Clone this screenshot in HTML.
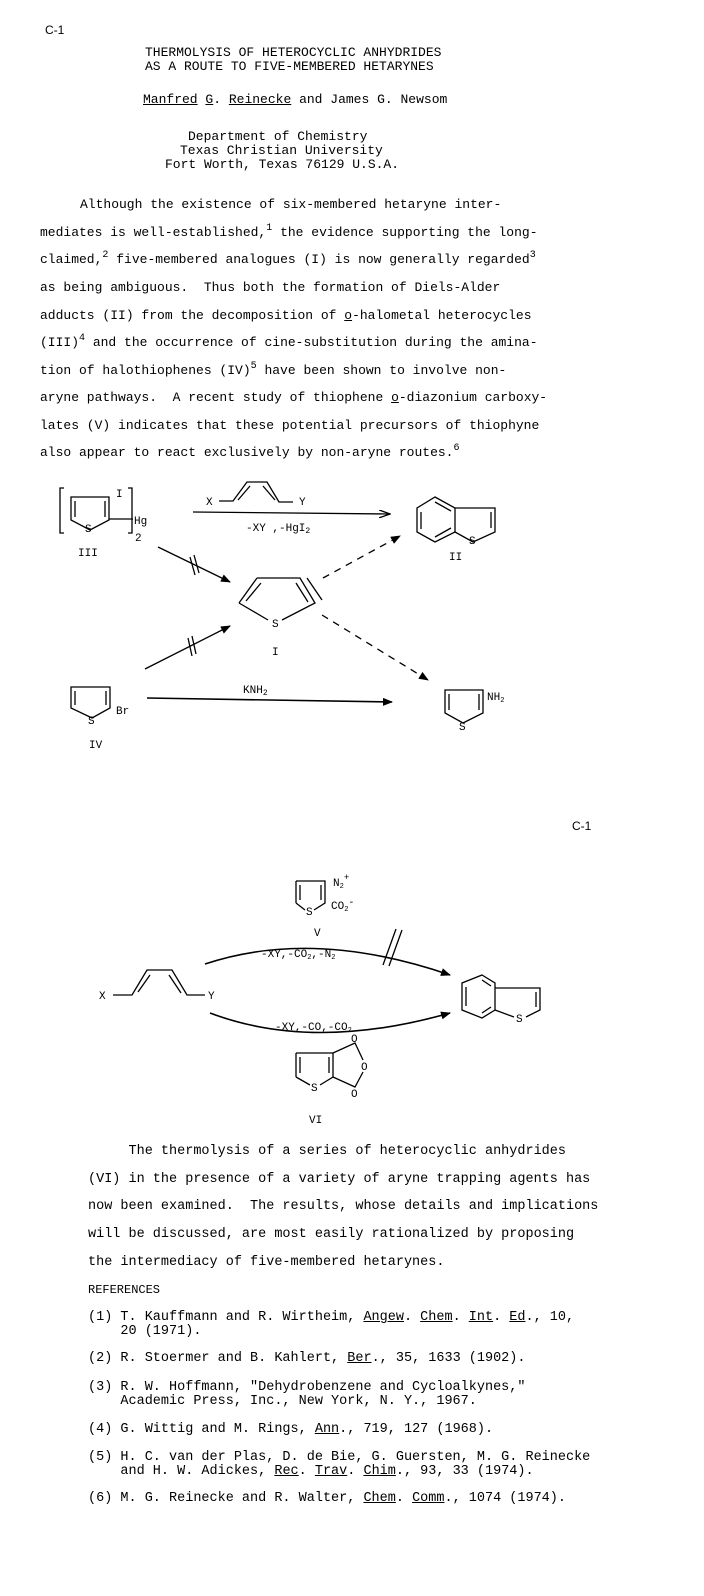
<!DOCTYPE html>
<html><head><meta charset="utf-8"><style>
body{margin:0;background:#fff;}
#p{position:relative;width:704px;height:1596px;overflow:hidden;background:#fff;color:#000;font-family:"Liberation Mono",monospace;}
.t{position:absolute;white-space:pre;font-size:13px;line-height:16px;}
.b{font-size:13.5px;}
sup{font-size:10px;line-height:0;vertical-align:6px;}
u{text-decoration:underline;}
svg{position:absolute;left:0;top:0;}
svg text{font-family:"Liberation Mono",monospace;font-size:11px;fill:#000;}
</style></head><body><div id="p">
<div class="t" style="left:45px;top:22px;font-family:'Liberation Sans',sans-serif;font-size:12px">C-1</div>
<div class="t" style="left:145px;top:45px">THERMOLYSIS OF HETEROCYCLIC ANHYDRIDES</div>
<div class="t" style="left:145px;top:59px">AS A ROUTE TO FIVE-MEMBERED HETARYNES</div>
<div class="t" style="left:143px;top:92px"><u>Manfred</u> <u>G</u>. <u>Reinecke</u> and James G. Newsom</div>
<div class="t" style="left:188px;top:129px">Department of Chemistry</div>
<div class="t" style="left:180px;top:143px">Texas Christian University</div>
<div class="t" style="left:165px;top:157px">Fort Worth, Texas 76129 U.S.A.</div>

<div class="t" style="left:80px;top:197px">Although the existence of six-membered hetaryne inter-</div>
<div class="t" style="left:40px;top:225px">mediates is well-established,<sup>1</sup> the evidence supporting the long-</div>
<div class="t" style="left:40px;top:252px">claimed,<sup>2</sup> five-membered analogues (I) is now generally regarded<sup>3</sup></div>
<div class="t" style="left:40px;top:280px">as being ambiguous.  Thus both the formation of Diels-Alder</div>
<div class="t" style="left:40px;top:308px">adducts (II) from the decomposition of <u>o</u>-halometal heterocycles</div>
<div class="t" style="left:40px;top:335px">(III)<sup>4</sup> and the occurrence of cine-substitution during the amina-</div>
<div class="t" style="left:40px;top:363px">tion of halothiophenes (IV)<sup>5</sup> have been shown to involve non-</div>
<div class="t" style="left:40px;top:390px">aryne pathways.  A recent study of thiophene <u>o</u>-diazonium carboxy-</div>
<div class="t" style="left:40px;top:418px">lates (V) indicates that these potential precursors of thiophyne</div>
<div class="t" style="left:40px;top:445px">also appear to react exclusively by non-aryne routes.<sup>6</sup></div>

<svg width="704" height="1596" viewBox="0 0 704 1596" fill="none" stroke="#000" stroke-width="1.3">
<defs>
<marker id="a" markerWidth="10" markerHeight="8" refX="9" refY="4" orient="auto" markerUnits="userSpaceOnUse"><path d="M0,0 L10,4 L0,8 Z" fill="#000" stroke="none"/></marker>
<marker id="o" markerWidth="12" markerHeight="8" refX="11" refY="4" orient="auto" markerUnits="userSpaceOnUse"><path d="M0,0 L11,4 L0,8" fill="none" stroke="#000"/></marker>
</defs>
<!-- III -->
<path d="M71,497 L109,497 L109,520 L90,530 L71,520 Z"/>
<path d="M75,501 L75,517 M105,501 L105,517"/>
<path d="M109,519 L133,519"/>
<path d="M64,488 L60,488 L60,533 L64,533 M128,488 L132,488 L132,533 L128,533"/>
<text x="116" y="497" stroke="none">I</text>
<text x="134" y="524" stroke="none">Hg</text>
<text x="135" y="541" stroke="none" font-size="8">2</text>
<text x="78" y="556" stroke="none">III</text>
<text x="85" y="532" stroke="none" font-size="9">S</text>
<!-- diene reagent -->
<text x="206" y="505" stroke="none">X</text>
<path d="M219,501 L233,501 L247,482 L267,482 L279,502 L293,502"/>
<path d="M238,500 L250,486 M263,486 L275,500"/>
<text x="299" y="505" stroke="none">Y</text>
<path d="M193,512 L390,514" marker-end="url(#o)"/>
<text x="246" y="531" stroke="none">-XY  ,-HgI<tspan font-size="8" dy="2">2</tspan></text>
<!-- II -->
<path d="M435,497 L455,508 L455,532 L435,542 L417,532 L417,508 Z"/>
<path d="M435,502 L451,511 M421,512 L421,529 M435,537 L451,528"/>
<path d="M455,508 L495,508 L495,532 L473,542 L455,532"/>
<path d="M491,512 L491,528"/>
<text x="469" y="544" stroke="none" font-size="9">S</text>
<text x="449" y="560" stroke="none">II</text>
<!-- I -->
<path d="M257,578 L300,578 L315,603 L282,620 M268,620 L239,603 Z M239,603 L257,578"/>
<path d="M261,583 L246,601 M296,583 L308,602 M307,578 L322,600"/>
<text x="272" y="627" stroke="none">S</text>
<text x="272" y="655" stroke="none">I</text>
<!-- arrows -->
<path d="M158,547 L230,582" marker-end="url(#a)"/>
<path d="M190,557 L195,575 M194,555 L199,573"/>
<path d="M145,669 L230,626" marker-end="url(#a)"/>
<path d="M188,638 L192,656 M192,636 L196,654"/>
<path d="M323,578 L400,536" stroke-dasharray="7,6" marker-end="url(#a)"/>
<path d="M322,615 L428,680" stroke-dasharray="7,6" marker-end="url(#a)"/>
<!-- IV -->
<path d="M71,687 L110,687 L110,708 L92,718 L71,708 Z"/>
<path d="M75,691 L75,705 M106,691 L106,705"/>
<text x="88" y="724" stroke="none" font-size="9">S</text>
<text x="116" y="714" stroke="none" font-size="10">Br</text>
<text x="89" y="748" stroke="none">IV</text>
<path d="M147,698 L392,702" marker-end="url(#a)" stroke-width="1.6"/>
<text x="243" y="693" stroke="none">KNH<tspan font-size="8" dy="2">2</tspan></text>
<!-- amine -->
<path d="M445,690 L483,690 L483,713 L463,723 L445,713 Z"/>
<path d="M449,694 L449,710 M479,694 L479,710"/>
<text x="459" y="730" stroke="none" font-size="9">S</text>
<text x="487" y="700" stroke="none" font-size="10">NH<tspan font-size="7" dy="2">2</tspan></text>

<!-- scheme 2 -->
<path d="M296,881 L325,881 L325,903 L314,910 M305,910 L296,903 Z M296,903 L296,881"/>
<path d="M300,885 L300,900 M321,885 L321,900"/>
<text x="306" y="915" stroke="none" font-size="9">S</text>
<text x="333" y="886" stroke="none" font-size="10">N<tspan font-size="7" dy="2">2</tspan><tspan font-size="9" dy="-8">+</tspan></text>
<text x="331" y="909" stroke="none" font-size="10">CO<tspan font-size="7" dy="2">2</tspan><tspan font-size="10" dy="-6">-</tspan></text>
<text x="314" y="936" stroke="none">V</text>
<path d="M205,964 Q313,928 450,975" marker-end="url(#a)" stroke-width="1.6"/>
<text x="261" y="957" stroke="none" font-size="10">-XY,-CO<tspan font-size="7" dy="2">2</tspan><tspan dy="-2">,-N</tspan><tspan font-size="7" dy="2">2</tspan></text>
<path d="M383,965 L396,929 M389,966 L402,930"/>
<text x="99" y="999" stroke="none">X</text>
<path d="M113,995 L132,995 L147,970 L172,970 L187,995 L205,995"/>
<path d="M138,992 L150,975 M169,975 L181,993"/>
<text x="208" y="999" stroke="none">Y</text>
<path d="M210,1013 Q313,1052 450,1013" marker-end="url(#a)" stroke-width="1.6"/>
<text x="275" y="1030" stroke="none" font-size="10">-XY,-CO,-CO<tspan font-size="7" dy="2">2</tspan></text>
<!-- benzothiophene 2 -->
<path d="M482,975 L495,983 L495,1010 L482,1018 L462,1010 L462,983 Z"/>
<path d="M482,980 L491,986 M466,987 L466,1006 M482,1013 L491,1007"/>
<path d="M495,988 L540,988 L540,1010 L526,1017 M514,1017 L495,1010"/>
<path d="M536,992 L536,1007"/>
<text x="516" y="1022" stroke="none" font-size="9">S</text>
<!-- VI -->
<path d="M296,1053 L333,1053 L333,1077 L320,1085 M310,1085 L296,1077 Z M296,1077 L296,1053"/>
<path d="M300,1057 L300,1073 M329,1057 L329,1073"/>
<text x="311" y="1091" stroke="none" font-size="9">S</text>
<path d="M333,1053 L355,1043 L363,1060 M363,1072 L355,1087 L333,1077"/>
<text x="361" y="1070" stroke="none" font-size="9">O</text>
<text x="351" y="1042" stroke="none" font-size="9">O</text>
<text x="351" y="1097" stroke="none" font-size="9">O</text>
<text x="309" y="1123" stroke="none">VI</text>
</svg>

<div class="t" style="left:572px;top:818px;font-family:'Liberation Sans',sans-serif;font-size:12px">C-1</div>

<div class="t b" style="left:88px;top:1144px">     The thermolysis of a series of heterocyclic anhydrides</div>
<div class="t b" style="left:88px;top:1172px">(VI) in the presence of a variety of aryne trapping agents has</div>
<div class="t b" style="left:88px;top:1199px">now been examined.  The results, whose details and implications</div>
<div class="t b" style="left:88px;top:1227px">will be discussed, are most easily rationalized by proposing</div>
<div class="t b" style="left:88px;top:1255px">the intermediacy of five-membered hetarynes.</div>
<div class="t" style="left:88px;top:1282px;font-size:12px">REFERENCES</div>
<div class="t b" style="left:88px;top:1310px">(1) T. Kauffmann and R. Wirtheim, <u>Angew</u>. <u>Chem</u>. <u>Int</u>. <u>Ed</u>., 10,</div>
<div class="t b" style="left:88px;top:1324px">    20 (1971).</div>
<div class="t b" style="left:88px;top:1351px">(2) R. Stoermer and B. Kahlert, <u>Ber</u>., 35, 1633 (1902).</div>
<div class="t b" style="left:88px;top:1380px">(3) R. W. Hoffmann, "Dehydrobenzene and Cycloalkynes,"</div>
<div class="t b" style="left:88px;top:1394px">    Academic Press, Inc., New York, N. Y., 1967.</div>
<div class="t b" style="left:88px;top:1422px">(4) G. Wittig and M. Rings, <u>Ann</u>., 719, 127 (1968).</div>
<div class="t b" style="left:88px;top:1450px">(5) H. C. van der Plas, D. de Bie, G. Guersten, M. G. Reinecke</div>
<div class="t b" style="left:88px;top:1464px">    and H. W. Adickes, <u>Rec</u>. <u>Trav</u>. <u>Chim</u>., 93, 33 (1974).</div>
<div class="t b" style="left:88px;top:1491px">(6) M. G. Reinecke and R. Walter, <u>Chem</u>. <u>Comm</u>., 1074 (1974).</div>
</div></body></html>
